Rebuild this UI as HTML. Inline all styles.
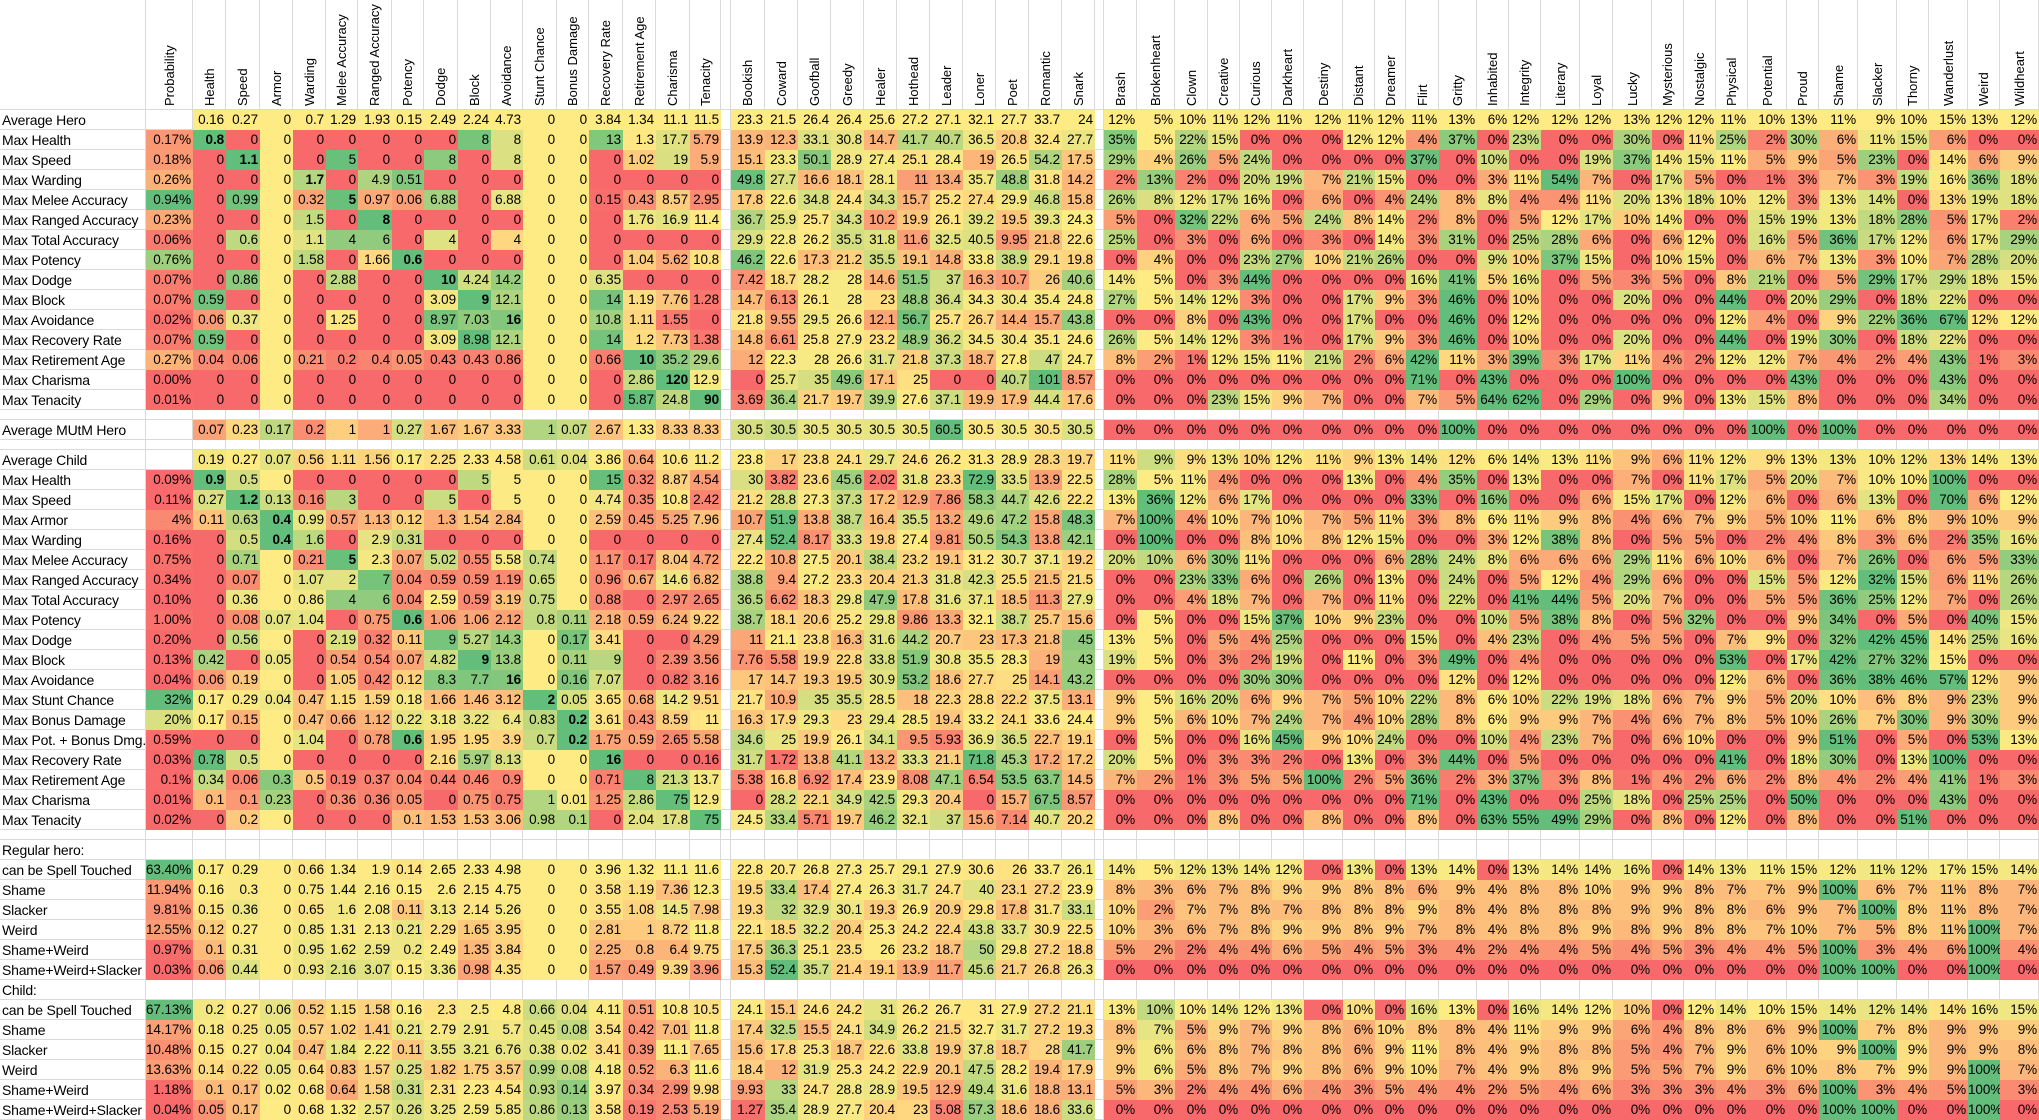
<!DOCTYPE html>
<html><head><meta charset="utf-8">
<style>
html,body{margin:0;padding:0;background:#fff;}
#w{position:relative;width:2039px;height:1120px;overflow:hidden;font-family:"Liberation Sans Narrow","Liberation Sans",Arial,sans-serif;color:#000;}
.c{position:absolute;height:20px;line-height:20px;font-size:13.5px;text-align:right;box-sizing:border-box;padding-right:2px;white-space:nowrap;letter-spacing:-0.1px;}
.l{position:absolute;left:0;width:146px;height:20px;line-height:20px;font-size:14px;padding-left:2px;box-sizing:border-box;white-space:nowrap;letter-spacing:-0.2px;}
.h{position:absolute;top:0;height:106px;writing-mode:vertical-rl;transform:rotate(180deg);font-size:13px;white-space:nowrap;text-align:left;}
.vl{position:absolute;top:0;width:1px;height:1120px;background:#d9d9d9;}
.hl{position:absolute;left:0;width:2039px;height:1px;background:#d9d9d9;}
</style></head><body><div id="w"></div>
<script>
const X=[146,193,226,260,293,326,358,392,424,458,491,523,557,589,623,656,690,721,731,765,798,831,864,897,930,963,996,1029,1062,1095,1104,1137,1175,1208,1240,1272,1304,1343,1375,1406,1439,1477,1509,1541,1580,1613,1652,1684,1716,1748,1787,1819,1858,1897,1929,1968,2000,2039];
const SH=["Health","Speed","Armor","Warding","Melee Accuracy","Ranged Accuracy","Potency","Dodge","Block","Avoidance","Stunt Chance","Bonus Damage","Recovery Rate","Retirement Age","Charisma","Tenacity"];
const PH=["Bookish","Coward","Goofball","Greedy","Healer","Hothead","Leader","Loner","Poet","Romantic","Snark"];
const TH=["Brash","Brokenheart","Clown","Creative","Curious","Darkheart","Destiny","Distant","Dreamer","Flirt","Gritty","Inhabited","Integrity","Literary","Loyal","Lucky","Mysterious","Nostalgic","Physical","Potential","Proud","Shame","Slacker","Thorny","Wanderlust","Weird","Wildheart"];
const AVG=["Average Hero","",".16 .27 0 .7 1.29 1.93 .15 2.49 2.24 4.73 0 0 3.84 1.34 11.1 11.5","23.3 21.5 26.4 26.4 25.6 27.2 27.1 32.1 27.7 33.7 24","12 5 10 11 12 11 12 11 12 11 13 6 12 12 12 13 12 12 11 10 13 11 9 10 15 13 12"];
const HM=[
["Max Health","0.17%","*.8 0 0 0 0 0 0 0 8 8 0 0 13 1.3 17.7 5.79","13.9 12.3 33.1 30.8 14.7 41.7 40.7 36.5 20.8 32.4 27.7","35 5 22 15 0 0 0 12 12 4 37 0 23 0 0 30 0 11 25 2 30 6 11 15 6 0 0"],
["Max Speed","0.18%","0 *1.1 0 0 5 0 0 8 0 8 0 0 0 1.02 19 5.9","15.1 23.3 50.1 28.9 27.4 25.1 28.4 19 26.5 54.2 17.5","29 4 26 5 24 0 0 0 0 37 0 10 0 0 19 37 14 15 11 5 9 5 23 0 14 6 9"],
["Max Warding","0.26%","0 0 0 *1.7 0 4.9 .51 0 0 0 0 0 0 0 0 0","49.8 27.7 16.6 18.1 28.1 11 13.4 35.7 48.8 31.8 14.2","2 13 2 0 20 19 7 21 15 0 0 3 11 54 7 0 17 5 0 1 3 7 3 19 16 36 18"],
["Max Melee Accuracy","0.94%","0 .99 0 .32 *5 .97 .06 6.88 0 6.88 0 0 .15 .43 8.57 2.95","17.8 22.6 34.8 24.4 34.3 15.7 25.2 27.4 29.9 46.8 15.8","26 8 12 17 16 0 6 0 4 24 8 8 4 4 11 20 13 18 10 12 3 13 14 0 13 19 18"],
["Max Ranged Accuracy","0.23%","0 0 0 1.5 0 *8 0 0 0 0 0 0 0 1.76 16.9 11.4","36.7 25.9 25.7 34.3 10.2 19.9 26.1 39.2 19.5 39.3 24.3","5 0 32 22 6 5 24 8 14 2 8 0 5 12 17 10 14 0 0 15 19 13 18 28 5 17 2"],
["Max Total Accuracy","0.06%","0 .6 0 1.1 4 6 0 4 0 4 0 0 0 0 0 0","29.9 22.8 26.2 35.5 31.8 11.6 32.5 40.5 9.95 21.8 22.6","25 0 3 0 6 0 3 0 14 3 31 0 25 28 6 0 6 12 0 16 5 36 17 12 6 17 29"],
["Max Potency","0.76%","0 0 0 1.58 0 1.66 *.6 0 0 0 0 0 0 1.04 5.62 10.8","46.2 22.6 17.3 21.2 35.5 19.1 14.8 33.8 38.9 29.1 19.8","0 4 0 0 23 27 10 21 26 0 0 9 10 37 15 0 10 15 0 6 7 13 3 10 7 28 20"],
["Max Dodge","0.07%","0 .86 0 0 2.88 0 0 *10 4.24 14.2 0 0 6.35 0 0 0","7.42 18.7 28.2 28 14.6 51.5 37 16.3 10.7 26 40.6","14 5 0 3 44 0 0 0 0 16 41 5 16 0 5 3 5 0 8 21 0 5 29 17 29 18 15"],
["Max Block","0.07%",".59 0 0 0 0 0 0 3.09 *9 12.1 0 0 14 1.19 7.76 1.28","14.7 6.13 26.1 28 23 48.8 36.4 34.3 30.4 35.4 24.8","27 5 14 12 3 0 0 17 9 3 46 0 10 0 0 20 0 0 44 0 20 29 0 18 22 0 0"],
["Max Avoidance","0.02%",".06 .37 0 0 1.25 0 0 8.97 7.03 *16 0 0 10.8 1.11 1.55 0","21.8 9.55 29.5 26.6 12.1 56.7 25.7 26.7 14.4 15.7 43.8","0 0 8 0 43 0 0 17 0 0 46 0 12 0 0 0 0 0 12 4 0 9 22 36 67 12 12"],
["Max Recovery Rate","0.07%",".59 0 0 0 0 0 0 3.09 8.98 12.1 0 0 14 1.2 7.73 1.38","14.8 6.61 25.8 27.9 23.2 48.9 36.2 34.5 30.4 35.1 24.6","26 5 14 12 3 1 0 17 9 3 46 0 10 0 0 20 0 0 44 0 19 30 0 18 22 0 0"],
["Max Retirement Age","0.27%",".04 .06 0 .21 .2 .4 .05 .43 .43 .86 0 0 .66 *10 35.2 29.6","12 22.3 28 26.6 31.7 21.8 37.3 18.7 27.8 47 24.7","8 2 1 12 15 11 21 2 6 42 11 3 39 3 17 11 4 2 12 12 7 4 2 4 43 1 3"],
["Max Charisma","0.00%","0 0 0 0 0 0 0 0 0 0 0 0 0 2.86 *120 12.9","0 25.7 35 49.6 17.1 25 0 0 40.7 101 8.57","0 0 0 0 0 0 0 0 0 71 0 43 0 0 0 100 0 0 0 0 43 0 0 0 43 0 0"],
["Max Tenacity","0.01%","0 0 0 0 0 0 0 0 0 0 0 0 0 5.87 24.8 *90","3.69 36.4 21.7 19.7 39.9 27.6 37.1 19.9 17.9 44.4 17.6","0 0 0 23 15 9 7 0 0 7 5 64 62 0 29 0 9 0 13 15 8 0 0 0 34 0 0"]];
const MUTM=["Average MUtM Hero","",".07 .23 .17 .2 1 1 .27 1.67 1.67 3.33 1 .07 2.67 1.33 8.33 8.33","30.5 30.5 30.5 30.5 30.5 30.5 60.5 30.5 30.5 30.5 30.5","0 0 0 0 0 0 0 0 0 0 100 0 0 0 0 0 0 0 0 100 0 100 0 0 0 0 0"];
const ACH=["Average Child","",".19 .27 .07 .56 1.11 1.56 .17 2.25 2.33 4.58 .61 .04 3.86 .64 10.6 11.2","23.8 17 23.8 24.1 29.7 24.6 26.2 31.3 28.9 28.3 19.7","11 9 9 13 10 12 11 9 13 14 12 6 14 13 11 9 6 11 12 9 13 13 10 12 13 14 13"];
const CM=[
["Max Health","0.09%","*.9 .5 0 0 0 0 0 0 5 5 0 0 15 .32 8.87 4.54","30 3.82 23.6 45.6 2.02 31.8 23.3 72.9 33.5 13.9 22.5","28 5 11 4 0 0 0 13 0 4 35 0 13 0 0 7 0 11 17 5 20 7 10 10 100 0 0"],
["Max Speed","0.11%",".27 *1.2 .13 .16 3 0 0 5 0 5 0 0 4.74 .35 10.8 2.42","21.2 28.8 27.3 37.3 17.2 12.9 7.86 58.3 44.7 42.6 22.2","13 36 12 6 17 0 0 0 0 33 0 16 0 0 6 15 17 0 12 6 0 6 13 0 70 6 12"],
["Max Armor","4%",".11 .63 *.4 .99 .57 1.13 .12 1.3 1.54 2.84 0 0 2.59 .45 5.25 7.96","10.7 51.9 13.8 38.7 16.4 35.5 13.2 49.6 47.2 15.8 48.3","7 100 4 10 7 10 7 5 11 3 8 6 11 9 8 4 6 7 9 5 10 11 6 8 9 10 9"],
["Max Warding","0.16%","0 .5 *.4 1.6 0 2.9 .31 0 0 0 0 0 0 0 0 0","27.4 52.4 8.17 33.3 19.8 27.4 9.81 50.5 54.3 13.8 42.1","0 100 0 0 8 10 8 12 15 0 0 3 12 38 8 0 5 5 0 2 4 8 3 6 2 35 16"],
["Max Melee Accuracy","0.75%","0 .71 0 .21 *5 2.3 .07 5.02 .55 5.58 .74 0 1.17 .17 8.04 4.72","22.2 10.8 27.5 20.1 38.4 23.2 19.1 31.2 30.7 37.1 19.2","20 10 6 30 11 0 0 0 6 28 24 8 6 6 6 29 11 6 10 6 0 7 26 0 6 5 33"],
["Max Ranged Accuracy","0.34%","0 .07 0 1.07 2 7 .04 .59 .59 1.19 .65 0 .96 .67 14.6 6.82","38.8 9.4 27.2 23.3 20.4 21.3 31.8 42.3 25.5 21.5 21.5","0 0 23 33 6 0 26 0 13 0 24 0 5 12 4 29 6 0 0 15 5 12 32 15 6 11 26"],
["Max Total Accuracy","0.10%","0 .36 0 .86 4 6 .04 2.59 .59 3.19 .75 0 .88 0 2.97 2.65","36.5 6.62 18.3 29.8 47.9 17.8 31.6 37.1 18.5 11.3 27.9","0 0 4 18 7 0 7 0 11 0 22 0 41 44 5 20 7 0 0 5 5 36 25 12 7 0 26"],
["Max Potency","1.00%","0 .08 .07 1.04 0 .75 *.6 1.06 1.06 2.12 .8 .11 2.18 .59 6.24 9.22","38.7 18.1 20.6 25.2 29.8 9.86 13.3 32.1 38.7 25.7 15.6","0 5 0 0 15 37 10 9 23 0 0 10 5 38 8 0 5 32 0 0 9 34 0 5 0 40 15"],
["Max Dodge","0.20%","0 .56 0 0 2.19 .32 .11 9 5.27 14.3 0 .17 3.41 0 0 4.29","11 21.1 23.8 16.3 31.6 44.2 20.7 23 17.3 21.8 45","13 5 0 5 4 25 0 0 0 15 0 4 23 0 4 5 5 0 7 9 0 32 42 45 14 25 16"],
["Max Block","0.13%",".42 0 .05 0 .54 .54 .07 4.82 *9 13.8 0 .11 9 0 2.39 3.56","7.76 5.58 19.9 22.8 33.8 51.9 30.8 35.5 28.3 19 43","19 5 0 3 2 19 0 11 0 3 49 0 4 0 0 0 0 0 53 0 17 42 27 32 15 0 0"],
["Max Avoidance","0.04%",".06 .19 0 0 1.05 .42 .12 8.3 7.7 *16 0 .16 7.07 0 .82 3.16","17 14.7 19.3 19.5 30.9 53.2 18.6 27.7 25 14.1 43.2","0 0 0 0 30 30 0 0 0 0 12 0 12 0 0 0 0 0 12 6 0 36 38 46 57 12 9"],
["Max Stunt Chance","32%",".17 .29 .04 .47 1.15 1.59 .18 1.66 1.46 3.12 *2 .05 3.65 .68 14.2 9.51","21.7 10.9 35 35.5 28.5 18 22.3 28.8 22.2 37.5 13.1","9 5 16 20 6 9 7 5 10 22 8 6 10 22 19 18 6 7 9 5 20 10 6 8 9 23 9"],
["Max Bonus Damage","20%",".17 .15 0 .47 .66 1.12 .22 3.18 3.22 6.4 .83 *.2 3.61 .43 8.59 11","16.3 17.9 29.3 23 29.4 28.5 19.4 33.2 24.1 33.6 24.4","9 5 6 10 7 24 7 4 10 28 8 6 9 9 7 4 6 7 8 5 10 26 7 30 9 30 9"],
["Max Pot. + Bonus Dmg.","0.59%","0 0 0 1.04 0 .78 *.6 1.95 1.95 3.9 .7 *.2 1.75 .59 2.65 5.58","34.6 25 19.9 26.1 34.1 9.5 5.93 36.9 36.5 22.7 19.1","0 5 0 0 16 45 9 10 24 0 0 10 4 23 7 0 6 10 0 0 9 51 0 5 0 53 13"],
["Max Recovery Rate","0.03%",".78 .5 0 0 0 0 0 2.16 5.97 8.13 0 0 *16 0 0 .16","31.7 1.72 13.8 41.1 13.2 33.3 21.1 71.8 45.3 17.2 17.2","20 5 0 3 3 2 0 13 0 3 44 0 5 0 0 0 0 0 41 0 18 30 0 13 100 0 0"],
["Max Retirement Age","0.1%",".34 .06 .3 .5 .19 .37 .04 .44 .46 .9 0 0 .71 8 21.3 13.7","5.38 16.8 6.92 17.4 23.9 8.08 47.1 6.54 53.5 63.7 14.5","7 2 1 3 5 5 100 2 5 36 2 3 37 3 8 1 4 2 6 2 8 4 2 4 41 1 3"],
["Max Charisma","0.01%",".1 .1 .23 0 .36 .36 .05 0 .75 .75 1 .01 1.25 2.86 75 12.9","0 28.2 22.1 34.9 42.5 29.3 20.4 0 15.7 67.5 8.57","0 0 0 0 0 0 0 0 0 71 0 43 0 0 25 18 0 25 25 0 50 0 0 0 43 0 0"],
["Max Tenacity","0.02%","0 .2 0 0 0 0 .1 1.53 1.53 3.06 .98 .1 0 2.04 17.8 75","24.5 33.4 5.71 19.7 46.2 32.1 37 15.6 7.14 40.7 20.2","0 0 0 8 0 0 8 0 0 8 0 63 55 49 29 0 8 0 12 0 8 0 0 51 0 0 0"]];
const RB=[
["can be Spell Touched","63.40%",".17 .29 0 .66 1.34 1.9 .14 2.65 2.33 4.98 0 0 3.96 1.32 11.1 11.6","22.8 20.7 26.8 27.3 25.7 29.1 27.9 30.6 26 33.7 26.1","14 5 12 13 14 12 0 13 0 13 14 0 13 14 14 16 0 14 13 11 15 12 11 12 17 15 14"],
["Shame","11.94%",".16 .3 0 .75 1.44 2.16 .15 2.6 2.15 4.75 0 0 3.58 1.19 7.36 12.3","19.5 33.4 17.4 27.4 26.3 31.7 24.7 40 23.1 27.2 23.9","8 3 6 7 8 9 9 8 8 6 9 4 8 8 10 9 9 8 7 7 9 100 6 7 11 8 7"],
["Slacker","9.81%",".15 .36 0 .65 1.6 2.08 .11 3.13 2.14 5.26 0 0 3.55 1.08 14.5 7.98","19.3 32 32.9 30.1 19.3 26.9 20.9 29.8 17.8 31.7 33.1","10 2 7 7 8 7 8 8 8 9 8 4 8 8 8 9 9 8 8 6 9 7 100 8 11 8 7"],
["Weird","12.55%",".12 .27 0 .85 1.31 2.13 .21 2.29 1.65 3.95 0 0 2.81 1 8.72 11.8","22.1 18.5 32.2 20.4 25.3 24.2 22.4 43.8 33.7 30.9 22.5","10 3 6 7 8 9 9 8 9 7 8 4 8 8 9 8 9 8 8 7 10 7 5 8 11 100 7"],
["Shame+Weird","0.97%",".1 .31 0 .95 1.62 2.59 .2 2.49 1.35 3.84 0 0 2.25 .8 6.4 9.75","17.5 36.3 25.1 23.5 26 23.2 18.7 50 29.8 27.2 18.8","5 2 2 4 4 6 5 4 5 3 4 2 4 4 5 4 5 3 4 4 5 100 3 4 6 100 4"],
["Shame+Weird+Slacker","0.03%",".06 .44 0 .93 2.16 3.07 .15 3.36 .98 4.35 0 0 1.57 .49 9.39 3.96","15.3 52.4 35.7 21.4 19.1 13.9 11.7 45.6 21.7 26.8 26.3","0 0 0 0 0 0 0 0 0 0 0 0 0 0 0 0 0 0 0 0 0 100 100 0 0 100 0"]];
const CB=[
["can be Spell Touched","67.13%",".2 .27 .06 .52 1.15 1.58 .16 2.3 2.5 4.8 .66 .04 4.11 .51 10.8 10.5","24.1 15.1 24.6 24.2 31 26.2 26.7 31 27.9 27.2 21.1","13 10 10 14 12 13 0 10 0 16 13 0 16 14 12 10 0 12 14 10 15 14 12 14 14 16 15"],
["Shame","14.17%",".18 .25 .05 .57 1.02 1.41 .21 2.79 2.91 5.7 .45 .08 3.54 .42 7.01 11.8","17.4 32.5 15.5 24.1 34.9 26.2 21.5 32.7 31.7 27.2 19.3","8 7 5 9 7 9 8 6 10 8 8 4 11 9 9 6 4 8 8 6 9 100 7 8 9 9 9"],
["Slacker","10.48%",".15 .27 .04 .47 1.84 2.22 .11 3.55 3.21 6.76 .38 .02 3.41 .39 11.1 7.65","15.6 17.8 25.3 18.7 22.6 33.8 19.9 37.8 18.7 28 41.7","9 6 6 8 7 8 8 6 9 11 8 4 9 8 8 5 4 7 9 6 10 9 100 9 9 9 8"],
["Weird","13.63%",".14 .22 .05 .64 .83 1.57 .25 1.82 1.75 3.57 .99 .08 4.18 .52 6.3 11.6","18.4 12 31.9 25.3 24.2 22.9 20.1 47.5 28.2 19.4 17.9","9 6 5 8 7 9 8 6 9 10 7 4 9 8 9 5 5 7 9 6 10 8 7 9 9 100 7"],
["Shame+Weird","1.18%",".1 .17 .02 .68 .64 1.58 .31 2.31 2.23 4.54 .93 .14 3.97 .34 2.99 9.98","9.93 33 24.7 28.8 28.9 19.5 12.9 49.4 31.6 18.8 13.1","5 3 2 4 4 6 4 3 5 4 4 2 5 4 6 3 3 3 4 3 6 100 3 4 5 100 3"],
["Shame+Weird+Slacker","0.04%",".05 .17 0 .68 1.32 2.57 .26 3.25 2.59 5.85 .86 .13 3.58 .19 2.53 5.19","1.27 35.4 28.9 27.7 20.4 23 5.08 57.3 18.6 18.6 33.6","0 0 0 0 0 0 0 0 0 0 0 0 0 0 0 0 0 0 0 0 0 100 100 0 0 100 0"]];

const W=document.getElementById('w');
function add(cls,st,txt){const d=document.createElement('div');d.className=cls;Object.assign(d.style,st);if(txt!==undefined)d.textContent=txt;W.appendChild(d);return d;}
[0].concat(X).forEach(x=>add('vl',{left:(x-1)+'px'}));
const ROWS=[];let y=110;
function R(type,data,h){ROWS.push({type,data,y,h:h||20});y+=h||20;}
R('avg',AVG);HM.forEach(r=>R('hm',r));R('blank',null,10);R('mutm',MUTM);R('blank',null,10);R('ach',ACH);
CM.forEach(r=>R('cm',r));R('blank',null,10);R('title',"Regular hero:");RB.forEach(r=>R('rb',r));R('title',"Child:");CB.forEach(r=>R('cb',r));
add('hl',{top:'109px'});ROWS.forEach(r=>add('hl',{top:(r.y+r.h-1)+'px'}));
function hdr(x0,x1,t){add('h',{left:x0+'px',width:(x1-x0)+'px',lineHeight:(x1-x0)+'px'},t);}
hdr(X[0],X[1],"Probability");
SH.forEach((t,i)=>hdr(X[1+i],X[2+i],t));PH.forEach((t,i)=>hdr(X[18+i],X[19+i],t));TH.forEach((t,i)=>hdr(X[30+i],X[31+i],t));
const RED=[248,105,107],YEL=[255,235,132],GRN=[99,190,123];
function lerp(a,b,t){t=Math.max(0,Math.min(1,t));return 'rgb('+a.map((v,i)=>Math.round(v+(b[i]-v)*t)).join(',')+')';}
const sp=s=>s.trim().split(/\s+/);
const num=s=>parseFloat(s.replace('*','').replace('%',''));
const base={s:sp(AVG[2]).map(num),p:sp(AVG[3]).map(num),t:sp(AVG[4]).map(num)};
const allRows=[...HM,MUTM,ACH,...CM,...RB,...CB];
const colMax=base.s.map((_,i)=>Math.max(...allRows.map(r=>num(sp(r[2])[i]))));
function ratioCol(v,b,G,cm){
 if(b===0){if(v===0)return lerp(YEL,YEL,0);return lerp(YEL,GRN,v/cm);}
 const r=v/b;if(r<=1)return lerp(RED,YEL,r);return lerp(YEL,GRN,(r-1)/(G-1));}
function probCol(v,mn,mx){const t=(v-mn)/(mx-mn||1);return t<.5?lerp(RED,YEL,t*2):lerp(YEL,GRN,t*2-1);}
const pr={};[['hm',HM],['cm',CM],['rb',RB],['cb',CB]].forEach(([k,a])=>{const v=a.map(r=>num(r[1]));pr[k]=[Math.min(...v),Math.max(...v)];});
function fmt(s){let b=false;if(s[0]==='*'){b=true;s=s.slice(1);}if(s[0]==='.')s='0'+s;return [s,b];}
function cell(x0,x1,y0,bg,txt,bold){const d=add('c',{left:x0+'px',width:(x1-x0)+'px',top:y0+'px',background:bg},txt);if(bold)d.style.fontWeight='bold';}
ROWS.forEach(r=>{
 if(r.type==='blank')return;
 if(r.type==='title'){add('l',{top:r.y+'px'},r.data);return;}
 const d=r.data;
 const isAvg=r.type==='avg';
 if(d[1]!==''){const v=num(d[1]);cell(X[0],X[1],r.y,probCol(v,pr[r.type][0],pr[r.type][1]),d[1]);}
 add('l',{top:r.y+'px'},d[0]);
 sp(d[2]).forEach((s,i)=>{const [t,b]=fmt(s);const v=num(s);cell(X[1+i],X[2+i],r.y,isAvg?lerp(YEL,YEL,0):ratioCol(v,base.s[i],4,colMax[i]),t,b);});
 sp(d[3]).forEach((s,i)=>{const [t,b]=fmt(s);const v=num(s);cell(X[18+i],X[19+i],r.y,isAvg?lerp(YEL,YEL,0):ratioCol(v,base.p[i],2.2,1),t,b);});
 sp(d[4]).forEach((s,i)=>{const v=num(s);cell(X[30+i],X[31+i],r.y,isAvg?lerp(YEL,YEL,0):ratioCol(v,base.t[i],3.5,1),v+'%');});
});
</script></body></html>
